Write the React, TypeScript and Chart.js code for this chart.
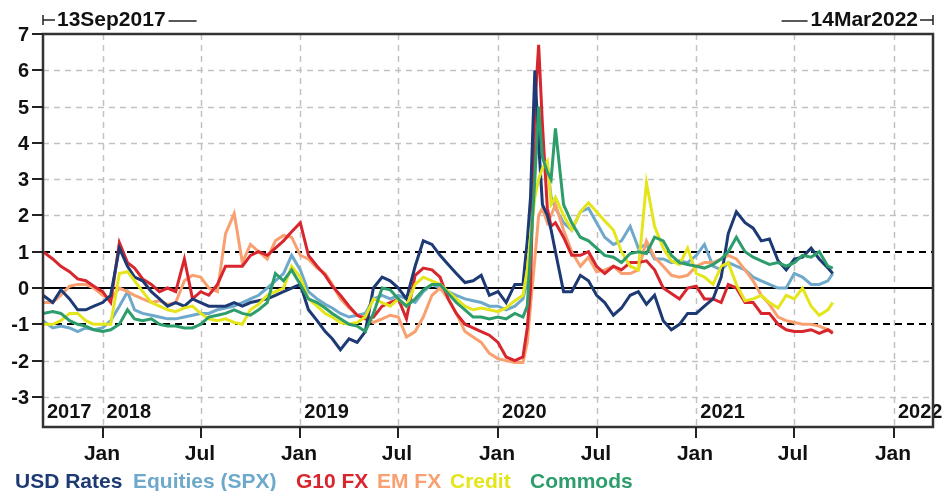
import React, { useEffect, useRef } from 'react';
import { Chart, registerables } from 'chart.js';
Chart.register(...registerables);

// ---------- DATA ----------
const dates = [
  '2017-09-13','2017-10-01','2017-10-16','2017-11-01','2017-11-16','2017-12-01','2017-12-16',
  '2018-01-01','2018-01-16','2018-02-01','2018-02-16','2018-03-01','2018-03-16','2018-04-01','2018-04-16',
  '2018-05-01','2018-05-16','2018-06-01','2018-06-16','2018-07-01','2018-07-16','2018-08-01','2018-08-16',
  '2018-09-01','2018-09-16','2018-10-01','2018-10-16','2018-11-01','2018-11-16','2018-12-01','2018-12-16',
  '2019-01-01','2019-01-16','2019-02-01','2019-02-16','2019-03-01','2019-03-16','2019-04-01','2019-04-16',
  '2019-05-01','2019-05-16','2019-06-01','2019-06-16','2019-07-01','2019-07-16','2019-08-01','2019-08-16',
  '2019-09-01','2019-09-16','2019-10-01','2019-10-16','2019-11-01','2019-11-16','2019-12-01','2019-12-16',
  '2020-01-01','2020-01-16','2020-02-01','2020-02-16','2020-02-24','2020-03-01','2020-03-09','2020-03-16',
  '2020-03-23','2020-04-01','2020-04-08','2020-04-16','2020-05-01','2020-05-16','2020-06-01','2020-06-16',
  '2020-07-01','2020-07-16','2020-08-01','2020-08-16','2020-09-01','2020-09-16','2020-10-01','2020-10-16',
  '2020-11-01','2020-11-16','2020-12-01','2020-12-16',
  '2021-01-01','2021-01-16','2021-02-01','2021-02-16','2021-03-01','2021-03-16','2021-04-01','2021-04-16',
  '2021-05-01','2021-05-16','2021-06-01','2021-06-16','2021-07-01','2021-07-16','2021-08-01','2021-08-16',
  '2021-09-01','2021-09-10',
];

const usdRates = [
  -0.2,-0.4,-0.05,-0.3,-0.6,-0.6,-0.5,
  -0.4,-0.2,1.1,0.6,0.3,0.2,-0.1,-0.3,-0.5,-0.4,-0.5,-0.3,-0.4,-0.5,-0.5,-0.5,-0.4,-0.5,-0.4,-0.35,-0.3,-0.2,-0.1,0.0,
  0.1,-0.6,-0.9,-1.2,-1.4,-1.7,-1.4,-1.5,-1.2,0.0,0.3,0.2,0.0,-0.3,0.6,1.3,1.2,0.9,0.65,0.4,0.15,0.2,0.35,-0.2,
  -0.1,-0.4,0.1,0.1,1.3,2.5,6.0,4.0,2.3,2.0,1.6,1.0,-0.1,-0.1,0.35,0.2,-0.2,-0.4,-0.75,-0.55,-0.2,-0.1,-0.45,-0.2,-0.9,-1.15,-1.0,-0.7,
  -0.7,-0.5,-0.3,0.3,1.5,2.1,1.8,1.65,1.3,1.35,0.75,0.5,0.8,0.85,1.1,0.8,0.55,0.4,
];
const equities = [
  -0.9,-1.1,-1.05,-1.1,-1.2,-1.1,-1.15,
  -1.1,-0.9,-0.5,-0.1,-0.6,-0.7,-0.75,-0.8,-0.85,-0.85,-0.8,-0.75,-0.7,-0.7,-0.6,-0.55,-0.5,-0.4,-0.3,-0.2,0.0,0.2,0.4,0.9,
  0.5,-0.1,-0.3,-0.45,-0.55,-0.7,-0.8,-0.75,-0.7,-0.3,-0.2,-0.3,-0.2,-0.3,-0.4,-0.1,0.1,0.0,-0.1,-0.2,-0.3,-0.35,-0.4,-0.5,
  -0.5,-0.6,-0.5,-0.3,0.2,1.0,4.3,4.5,3.6,3.4,2.5,2.2,1.8,1.6,2.1,2.2,1.8,1.4,1.2,1.3,1.7,1.1,1.2,0.8,0.8,0.7,0.75,0.7,
  0.9,1.2,0.6,0.5,0.7,0.6,0.5,0.3,0.2,0.1,0.0,0.0,0.4,0.3,0.1,0.1,0.2,0.4,
];
const g10Fx = [
  1.0,0.8,0.6,0.45,0.25,0.2,0.05,
  -0.1,-0.4,1.25,0.7,0.55,0.25,0.1,-0.1,0.0,-0.1,0.8,-0.3,-0.1,-0.2,0.1,0.6,0.6,0.6,0.9,1.0,0.9,1.1,1.3,1.55,
  1.8,0.9,0.6,0.35,0.05,-0.2,-0.5,-0.75,-0.85,-0.8,-0.5,-0.4,-0.3,-0.85,0.35,0.55,0.5,0.3,-0.3,-0.7,-1.0,-1.1,-1.2,-1.3,
  -1.5,-1.9,-2.0,-1.9,-1.1,0.0,5.0,6.7,4.5,2.2,1.7,1.8,1.4,0.9,0.9,1.0,0.6,0.4,0.6,0.5,0.7,0.7,0.75,0.5,0.0,-0.15,-0.3,0.0,
  0.05,-0.3,-0.3,-0.4,0.1,0.0,-0.4,-0.4,-0.7,-0.7,-1.0,-1.15,-1.2,-1.2,-1.15,-1.25,-1.15,-1.25,
];
const emFx = [
  -0.4,-0.4,-0.2,0.05,0.1,0.1,0.0,
  -0.2,-0.3,0.0,-0.1,-0.2,-0.3,-0.4,-0.35,-0.45,-0.4,0.2,0.35,0.3,0.0,-0.1,1.5,2.05,0.7,1.2,1.0,0.8,1.3,1.45,1.4,
  0.9,0.8,0.55,0.4,0.1,-0.3,-0.55,-0.75,-0.8,-0.95,-0.85,-0.75,-0.8,-1.35,-1.2,-0.8,-0.2,0.0,-0.3,-0.7,-1.2,-1.35,-1.5,-1.8,
  -1.95,-2.0,-2.05,-2.05,-1.5,-0.5,0.8,2.0,2.2,1.8,2.0,2.3,1.6,1.0,0.6,0.85,0.45,0.5,0.6,0.4,0.4,0.5,1.3,0.85,0.6,0.35,0.3,0.35,
  0.6,0.7,0.7,0.8,0.9,0.8,0.5,0.2,-0.2,-0.45,-0.8,-0.9,-0.95,-1.0,-1.0,-1.05,-1.15,-1.2,
];
const credit = [
  -1.0,-1.0,-0.9,-0.7,-0.7,-0.9,-1.0,
  -1.0,-1.0,0.4,0.45,0.2,-0.1,-0.4,-0.5,-0.6,-0.65,-0.55,-0.5,-0.7,-0.85,-0.9,-0.85,-0.95,-1.0,-0.6,-0.45,-0.2,-0.1,0.0,0.6,
  0.3,-0.3,-0.5,-0.7,-0.8,-0.95,-1.0,-0.95,-0.8,-0.3,-0.4,-0.5,-0.3,-0.5,0.1,0.3,0.2,0.1,-0.1,-0.3,-0.5,-0.6,-0.55,-0.6,
  -0.65,-0.55,-0.35,-0.2,0.5,1.4,2.5,3.0,3.3,3.5,2.3,2.5,2.0,1.6,2.1,2.35,2.1,1.85,1.6,1.0,0.6,0.5,2.9,1.7,1.1,0.75,0.65,1.1,
  0.4,0.3,0.1,0.6,0.7,0.1,-0.35,-0.3,-0.2,-0.4,-0.55,-0.2,-0.3,0.0,-0.5,-0.75,-0.6,-0.4,
];
const commods = [
  -0.7,-0.65,-0.7,-0.9,-1.0,-1.05,-1.15,
  -1.2,-1.15,-1.0,-0.6,-0.85,-0.9,-0.85,-1.0,-1.05,-1.05,-1.1,-1.1,-1.0,-0.8,-0.75,-0.7,-0.6,-0.7,-0.75,-0.6,-0.4,0.4,0.2,0.5,
  0.1,-0.3,-0.4,-0.55,-0.7,-0.85,-1.0,-1.05,-1.2,-0.7,0.0,-0.05,-0.3,-0.5,-0.3,-0.05,0.1,0.1,-0.15,-0.4,-0.6,-0.8,-0.8,-0.85,
  -0.8,-0.85,-0.7,-0.8,-0.5,1.0,3.0,5.0,3.6,3.2,3.0,4.4,2.3,1.8,1.4,1.3,1.1,0.9,0.85,0.7,0.95,1.0,0.95,1.4,1.3,0.9,0.7,0.65,
  0.6,0.55,0.65,0.8,1.0,1.4,1.0,0.85,0.75,0.65,0.7,0.6,0.7,0.9,0.85,1.0,0.6,0.55,
];

const seriesNames = ['USD Rates', 'Equities (SPX)', 'G10 FX', 'EM FX', 'Credit', 'Commods'];
const seriesColors = ['#1d3a74', '#6ea8cb', '#d8262e', '#f9a070', '#e5e51c', '#2c9d6b'];
const seriesOrder = [3, 6, 4, 5, 2, 1];

const yTicks = [-3, -2, -1, 0, 1, 2, 3, 4, 5, 6, 7];
const monthTicks = [
  ['2018-01-01', 'Jan'], ['2018-07-01', 'Jul'], ['2019-01-01', 'Jan'], ['2019-07-01', 'Jul'],
  ['2020-01-01', 'Jan'], ['2020-07-01', 'Jul'], ['2021-01-01', 'Jan'], ['2021-07-01', 'Jul'],
  ['2022-01-01', 'Jan'],
];
const yearLabels = [
  ['2017-09-13', '2017'], ['2018-01-01', '2018'], ['2019-01-01', '2019'],
  ['2020-01-01', '2020'], ['2021-01-01', '2021'], ['2022-01-01', '2022'],
];
const startLabel = '13Sep2017';
const endLabel = '14Mar2022';
const xStart = '2017-09-13';
const xEnd = '2022-03-14';
const yMin = -3.83;
const yMax = 7;

// ---------- LAYOUT ----------
const legendX = [15, 133, 296, 377, 450, 530];

const dayNum = (s: string) =>
  Date.UTC(+s.slice(0, 4), +s.slice(5, 7) - 1, +s.slice(8, 10)) / 86400000;

const FONT = '"Liberation Sans", Arial, sans-serif';

const decorPlugin = {
  id: 'decor',
  beforeDatasetsDraw(chart: any) {
    const { ctx, chartArea, scales } = chart;
    const { left, right, top, bottom } = chartArea;
    const x = scales.x, y = scales.y;
    ctx.save();
    ctx.strokeStyle = '#c2c2c2';
    ctx.lineWidth = 1.5;
    ctx.setLineDash([6, 5]);
    yTicks.forEach((v) => {
      if (v === 0 || v === 1 || v === -1 || v === yMax) return;
      const py = Math.round(y.getPixelForValue(v)) + 0.5;
      ctx.beginPath(); ctx.moveTo(left, py); ctx.lineTo(right, py); ctx.stroke();
    });
    monthTicks.forEach(([d]) => {
      const px = Math.round(x.getPixelForValue(dayNum(d))) + 0.5;
      ctx.beginPath(); ctx.moveTo(px, top); ctx.lineTo(px, bottom); ctx.stroke();
    });
    ctx.strokeStyle = '#000';
    ctx.lineWidth = 2;
    ctx.setLineDash([7, 5]);
    [1, -1].forEach((v) => {
      const py = Math.round(y.getPixelForValue(v));
      ctx.beginPath(); ctx.moveTo(left, py); ctx.lineTo(right, py); ctx.stroke();
    });
    ctx.setLineDash([]);
    const p0 = Math.round(y.getPixelForValue(0));
    ctx.beginPath(); ctx.moveTo(left, p0); ctx.lineTo(right, p0); ctx.stroke();
    ctx.restore();
  },
  afterDatasetsDraw(chart: any) {
    const { ctx, chartArea, scales } = chart;
    const { left, right, top, bottom } = chartArea;
    const x = scales.x, y = scales.y;
    ctx.save();
    ctx.setLineDash([]);
    // year labels inside plot
    ctx.fillStyle = '#111';
    ctx.font = `bold 20px ${FONT}`;
    ctx.textAlign = 'left';
    ctx.textBaseline = 'middle';
    yearLabels.forEach(([d, t]) => {
      const px = x.getPixelForValue(dayNum(d));
      ctx.fillText(t, px + 4, bottom - 15);
    });
    // frame
    ctx.strokeStyle = '#333';
    ctx.lineWidth = 2.5;
    ctx.strokeRect(left, top, right - left, bottom - top);
    // y ticks
    ctx.strokeStyle = '#222';
    ctx.lineWidth = 2;
    ctx.textAlign = 'right';
    ctx.textBaseline = 'middle';
    ctx.font = `bold 20px ${FONT}`;
    yTicks.forEach((v) => {
      const py = Math.round(y.getPixelForValue(v));
      ctx.beginPath(); ctx.moveTo(left - 11, py); ctx.lineTo(left, py); ctx.stroke();
      ctx.fillText(String(v), left - 14, py + 1);
    });
    // x ticks
    ctx.textAlign = 'center';
    ctx.font = `bold 21px ${FONT}`;
    monthTicks.forEach(([d, t]) => {
      const px = Math.round(x.getPixelForValue(dayNum(d)));
      ctx.beginPath(); ctx.moveTo(px, bottom); ctx.lineTo(px, bottom + 11); ctx.stroke();
      ctx.fillText(t, px - 1, bottom + 27);
    });
    // top range labels
    const ty = 20;
    ctx.lineWidth = 1.5;
    ctx.beginPath(); ctx.moveTo(left, ty - 5); ctx.lineTo(left, ty + 5); ctx.stroke();
    ctx.beginPath(); ctx.moveTo(left, ty); ctx.lineTo(left + 12, ty); ctx.stroke();
    ctx.textAlign = 'left';
    ctx.fillText(startLabel, left + 14, ty);
    const sw = ctx.measureText(startLabel).width;
    ctx.beginPath(); ctx.moveTo(left + 17 + sw, ty + 1); ctx.lineTo(left + 45 + sw, ty + 1); ctx.stroke();

    ctx.beginPath(); ctx.moveTo(right, ty - 5); ctx.lineTo(right, ty + 5); ctx.stroke();
    ctx.beginPath(); ctx.moveTo(right - 13, ty); ctx.lineTo(right, ty); ctx.stroke();
    ctx.textAlign = 'right';
    ctx.fillText(endLabel, right - 15, ty);
    const ew = ctx.measureText(endLabel).width;
    ctx.beginPath(); ctx.moveTo(right - 18 - ew, ty + 1); ctx.lineTo(right - 44 - ew, ty + 1); ctx.stroke();

    // legend
    ctx.textAlign = 'left';
    ctx.textBaseline = 'middle';
    ctx.font = `bold 21px ${FONT}`;
    seriesNames.forEach((n, i) => {
      ctx.fillStyle = seriesColors[i];
      ctx.fillText(n, legendX[i], 482);
    });
    ctx.restore();
  },
};

export default function App() {
  const ref = useRef<HTMLCanvasElement | null>(null);
  useEffect(() => {
    if (!ref.current) return;
    const allSeries = [usdRates, equities, g10Fx, emFx, credit, commods];
    const chart = new Chart(ref.current, {
      type: 'line',
      data: {
        datasets: allSeries.map((vals, i) => ({
          label: seriesNames[i],
          data: dates.map((d, j) => ({ x: dayNum(d), y: vals[j] })),
          borderColor: seriesColors[i],
          backgroundColor: seriesColors[i],
          borderWidth: 3,
          pointRadius: 0,
          tension: 0,
          fill: false,
          order: seriesOrder[i],
        })),
      },
      options: {
        responsive: false,
        animation: false,
        devicePixelRatio: 1,
        layout: { padding: { left: 43, top: 34, right: 10, bottom: 64 } },
        plugins: { legend: { display: false }, tooltip: { enabled: false }, title: { display: false } },
        scales: {
          x: { type: 'linear', display: false, min: dayNum(xStart), max: dayNum(xEnd) },
          y: { type: 'linear', display: false, min: yMin, max: yMax },
        },
      },
      plugins: [decorPlugin],
    } as any);
    return () => chart.destroy();
  }, []);
  return (
    <div style={{ position: 'absolute', left: 0, top: 0, width: 943, height: 491, background: '#fff' }}>
      <canvas ref={ref} width={943} height={491} style={{ display: 'block' }} />
    </div>
  );
}
